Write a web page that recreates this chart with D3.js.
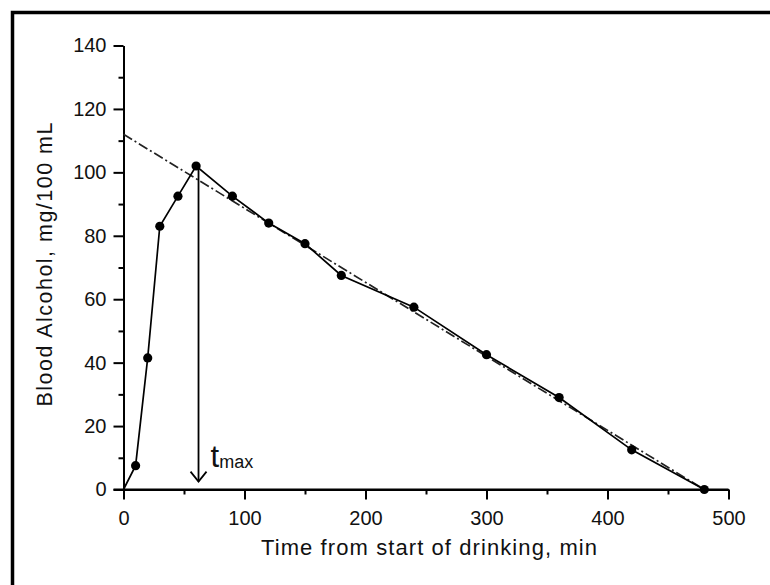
<!DOCTYPE html>
<html>
<head>
<meta charset="utf-8">
<script src="https://cdn.jsdelivr.net/npm/d3@7"></script>
<style>
  html, body { margin: 0; padding: 0; background: #fff; }
  svg { display: block; }
  text { font-family: "Liberation Sans", Arial, Helvetica, sans-serif; fill: #111; }
</style>
</head>
<body>
<svg id="chart" width="770" height="585"></svg>
<script>
// ---- data ----
const timeMin = [0, 10, 20, 30, 45, 60, 90, 120, 150, 180, 240, 300, 360, 420, 480];
const bloodAlcohol = [0, 7.5, 41.5, 83, 92.5, 102, 92.5, 84, 77.5, 67.5, 57.5, 42.5, 29, 12.5, 0];
const fitLineTime = [0, 480];
const fitLineValue = [112, 0];
const tmaxTime = 62;
const tmaxFrom = 102;
const tmaxTo = 2.5;
const xTicks = [0, 100, 200, 300, 400, 500];
const yTicks = [0, 20, 40, 60, 80, 100, 120, 140];
const xMinorTicks = [50, 150, 250, 350, 450];
const yMinorTicks = [10, 30, 50, 70, 90, 110, 130];
const xTitle = "Time from start of drinking, min";
const yTitle = "Blood Alcohol, mg/100 mL";

const svg = d3.select("#chart");

// frame (clipped at right/bottom like the reference)
svg.append("rect")
  .attr("x", 12.5).attr("y", 12.5)
  .attr("width", 820).attr("height", 620)
  .attr("fill", "none").attr("stroke", "#000").attr("stroke-width", 3.5);

const x = d3.scaleLinear().domain([0, 500]).range([123.5, 728.5]);
const y = d3.scaleLinear().domain([0, 140]).range([489.5, 45.5]);

// axes
const gx = svg.append("g").attr("transform", `translate(0,${y(0)})`);
gx.call(d3.axisBottom(x).tickValues(xTicks).tickSize(10).tickSizeOuter(0).tickPadding(11).tickFormat(d3.format("d")));
const gxm = svg.append("g").attr("transform", `translate(0,${y(0)})`);
gxm.call(d3.axisBottom(x).tickValues(xMinorTicks).tickSize(5).tickFormat(""));
gxm.select(".domain").remove();

const gy = svg.append("g").attr("transform", `translate(${x(0)},0)`);
gy.call(d3.axisLeft(y).tickValues(yTicks).tickSize(10).tickSizeOuter(0).tickPadding(7).tickFormat(d3.format("d")));
const gym = svg.append("g").attr("transform", `translate(${x(0)},0)`);
gym.call(d3.axisLeft(y).tickValues(yMinorTicks).tickSize(5).tickFormat(""));
gym.select(".domain").remove();

// extend x axis line to left so it meets the 0 tick
svg.append("line")
  .attr("x1", x(0) - 10).attr("x2", x(500))
  .attr("y1", y(0)).attr("y2", y(0))
  .attr("stroke", "#000").attr("stroke-width", 2);

svg.selectAll(".domain").attr("stroke", "#000").attr("stroke-width", 2);
svg.selectAll(".tick line").attr("stroke", "#000").attr("stroke-width", 2);
svg.selectAll(".tick text")
  .attr("font-size", 20)
  .attr("font-family", "'Liberation Sans', Arial, sans-serif")
  .attr("fill", "#111");

// dash-dot fit line
const fitData = fitLineTime.map((t, i) => [t, fitLineValue[i]]);
svg.append("path")
  .datum(fitData)
  .attr("d", d3.line().x(d => x(d[0])).y(d => y(d[1])))
  .attr("fill", "none").attr("stroke", "#222").attr("stroke-width", 1.7)
  .attr("stroke-dasharray", "10,3,2,3");

// data line
const pts = timeMin.map((t, i) => [t, bloodAlcohol[i]]);
svg.append("path")
  .datum(pts)
  .attr("d", d3.line().x(d => x(d[0])).y(d => y(d[1])))
  .attr("fill", "none").attr("stroke", "#000").attr("stroke-width", 1.7);

svg.selectAll("circle.pt")
  .data(pts.slice(1))
  .join("circle")
  .attr("class", "pt")
  .attr("cx", d => x(d[0])).attr("cy", d => y(d[1]))
  .attr("r", 4.6).attr("fill", "#000");

// tmax arrow
const ax = x(tmaxTime);
svg.append("line")
  .attr("x1", ax).attr("x2", ax)
  .attr("y1", y(tmaxFrom)).attr("y2", y(tmaxTo))
  .attr("stroke", "#000").attr("stroke-width", 1.8);
svg.append("path")
  .attr("d", `M${ax - 8},${y(tmaxTo) - 10} L${ax},${y(tmaxTo)} L${ax + 8},${y(tmaxTo) - 10}`)
  .attr("fill", "none").attr("stroke", "#000").attr("stroke-width", 1.8);

const tl = svg.append("text")
  .attr("x", ax + 12).attr("y", y(tmaxTo) - 15)
  .attr("font-size", 31);
tl.append("tspan").text("t");
tl.append("tspan").attr("font-size", 18).attr("dx", 0).attr("dy", 1).text("max");

// titles
svg.append("text")
  .attr("x", 429).attr("y", 555)
  .attr("text-anchor", "middle")
  .attr("font-size", 22)
  .attr("textLength", 336).attr("lengthAdjust", "spacing")
  .text(xTitle);

svg.append("text")
  .attr("transform", "translate(52,264.5) rotate(-90)")
  .attr("text-anchor", "middle")
  .attr("font-size", 21.5)
  .attr("textLength", 284).attr("lengthAdjust", "spacing")
  .text(yTitle);
</script>
</body>
</html>
